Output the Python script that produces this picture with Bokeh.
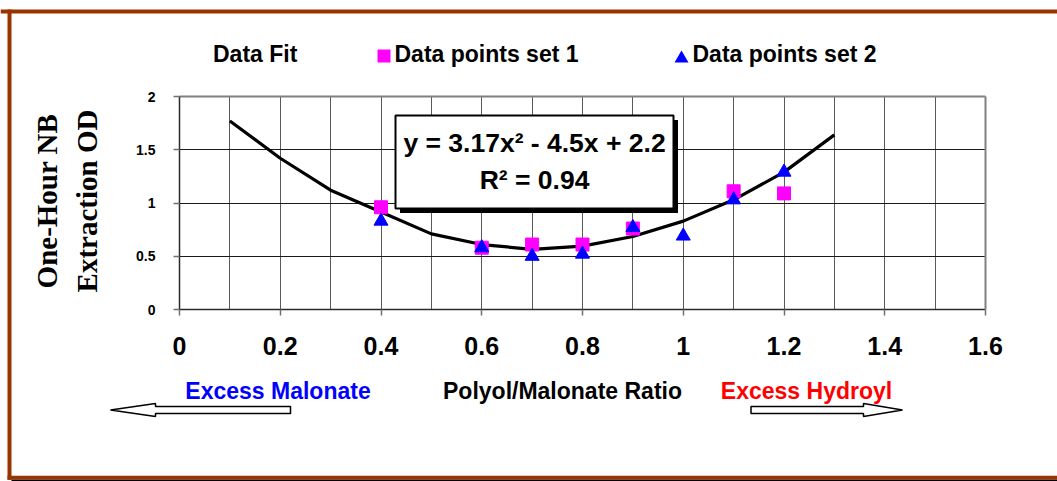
from bokeh.plotting import figure
from bokeh.models import (Range1d, FixedTicker, Label, BoxAnnotation, PolyAnnotation,
                          LinearAxis, Grid)
from bokeh.embed import file_html
from bokeh.resources import INLINE

# ---------------- data ----------------
fit_x = [0.1, 0.2, 0.3, 0.4, 0.5, 0.6, 0.7, 0.8, 0.9, 1.0, 1.1, 1.2, 1.3]
fit_y = [1.77, 1.42, 1.12, 0.915, 0.71, 0.61, 0.565, 0.595, 0.685, 0.83, 1.03, 1.29, 1.64]

set1_x = [0.4, 0.6, 0.7, 0.8, 0.9, 1.1, 1.2]
set1_y = [0.96, 0.58, 0.61, 0.61, 0.76, 1.11, 1.09]

set2_x = [0.4, 0.6, 0.7, 0.8, 0.9, 1.0, 1.1, 1.2]
set2_y = [0.83, 0.58, 0.50, 0.52, 0.77, 0.69, 1.03, 1.29]

x_ticks = [0, 0.2, 0.4, 0.6, 0.8, 1, 1.2, 1.4, 1.6]
x_tick_labels = ["0", "0.2", "0.4", "0.6", "0.8", "1", "1.2", "1.4", "1.6"]
x_grid_ticks = [0.1, 0.2, 0.3, 0.4, 0.5, 0.6, 0.7, 0.8, 0.9, 1.0, 1.1, 1.2, 1.3, 1.4, 1.5]
y_ticks = [0, 0.5, 1, 1.5, 2]
y_tick_labels = ["0", "0.5", "1", "1.5", "2"]
y_grid_ticks = [0.5, 1, 1.5]
x_min, x_max = 0, 1.6
y_min, y_max = 0, 2

legend_labels = ["Data Fit", "Data points set 1", "Data points set 2"]
equation_text = "y = 3.17x\u00b2 - 4.5x + 2.2"
r2_text = "R\u00b2 = 0.94"
y_title_lines = ["One-Hour NB", "Extraction OD"]
x_title = "Polyol/Malonate Ratio"
left_note = "Excess Malonate"
right_note = "Excess Hydroyl"

# ---------------- layout ----------------
W, H = 1057, 481
# plot area in canvas pixels
AX_L, AX_R, AX_T, AX_B = 179, 985, 96, 309
ppx = (AX_R - AX_L) / (x_max - x_min)
ppy = (AX_B - AX_T) / (y_max - y_min)
xr = Range1d(x_min - AX_L / ppx, x_max + (W - AX_R) / ppx)
yr = Range1d(y_min - (H - AX_B) / ppy, y_max + AX_T / ppy)

def sx(px):
    return px

def sy(py):
    return H - py

SANS = "Liberation Sans"
SERIF = "Liberation Serif"
BROWN = "#993300"

p = figure(width=W, height=H, x_range=xr, y_range=yr, title=None,
           output_backend="svg", toolbar_location=None, min_border=0,
           background_fill_color="white", border_fill_color="white")
p.outline_line_color = None

# ---------------- grids ----------------
p.xgrid.ticker = FixedTicker(ticks=x_grid_ticks)
p.ygrid.ticker = FixedTicker(ticks=y_grid_ticks)
p.xgrid.grid_line_color = "#5a5a5a"
p.ygrid.grid_line_color = "#1a1a1a"
p.xgrid.grid_line_width = 1
p.ygrid.grid_line_width = 1
if "cross_bounds" in Grid.properties():
    p.xgrid.cross_bounds = (y_min, y_max)
    p.ygrid.cross_bounds = (x_min, x_max)
    p.xgrid.bounds = (x_min, x_max)
    p.ygrid.bounds = (y_min, y_max)

# ---------------- axes ----------------
p.xaxis.fixed_location = y_min
p.yaxis.fixed_location = x_min
p.xaxis.bounds = (x_min, x_max)
p.yaxis.bounds = (y_min, y_max)
p.xaxis.ticker = FixedTicker(ticks=x_ticks)
p.yaxis.ticker = FixedTicker(ticks=y_ticks)
p.xaxis.major_label_overrides = dict(zip(x_ticks, x_tick_labels))
p.yaxis.major_label_overrides = dict(zip(y_ticks, y_tick_labels))
for ax in (p.xaxis, p.yaxis):
    ax.axis_line_color = "#2a2a2a"
    ax.axis_line_width = 1.5
    ax.major_tick_in = 0
    ax.major_tick_out = 6
    ax.minor_tick_line_color = None
    ax.major_tick_line_color = "#707070"
    ax.major_tick_line_width = 1.5
    ax.major_label_text_font = SANS
    ax.major_label_text_font_style = "bold"
    ax.major_label_text_color = "black"
p.xaxis.major_label_text_font_size = "25px"
p.xaxis.major_label_standoff = 21
p.yaxis.major_label_text_font_size = "14px"
p.yaxis.major_label_standoff = 18

# top and right borders of the plot area
top_axis = LinearAxis(fixed_location=y_max, bounds=(x_min, x_max), ticker=FixedTicker(ticks=[]),
                      axis_line_color="#808080", axis_line_width=2,
                      major_tick_line_color=None, minor_tick_line_color=None,
                      major_label_text_alpha=0)
right_axis = LinearAxis(fixed_location=x_max, bounds=(y_min, y_max), ticker=FixedTicker(ticks=[]),
                        axis_line_color="#808080", axis_line_width=2,
                        major_tick_line_color=None, minor_tick_line_color=None,
                        major_label_text_alpha=0)
p.add_layout(top_axis, "above")
p.add_layout(right_axis, "right")

# ---------------- data glyphs ----------------
p.line(fit_x, fit_y, line_color="black", line_width=3.2)
p.scatter(set1_x, set1_y, marker="square", size=13, fill_color="#FF00FF", line_color="#FF00FF")
p.scatter(set2_x, set2_y, marker="triangle", size=14, fill_color="#0000FF", line_color="#0000FF")

# ---------------- helpers ----------------
def box(l, r, t, b, color, **kw):
    opts = dict(fill_color=color, fill_alpha=1, line_alpha=0, level="overlay")
    opts.update(kw)
    return BoxAnnotation(left=sx(l), right=sx(r), top=sy(t), bottom=sy(b),
                         left_units="screen", right_units="screen",
                         top_units="screen", bottom_units="screen", **opts)

def label(txt, px, py, size, color="black", font=SANS, align="center", **kw):
    return Label(x=sx(px), y=sy(py), x_units="screen", y_units="screen", text=txt,
                 text_font=font, text_font_size=size, text_font_style="bold",
                 text_align=align, text_baseline="middle", text_color=color,
                 level="overlay", **kw)

def poly(xs, ys, **kw):
    return PolyAnnotation(xs=[sx(v) for v in xs], ys=[sy(v) for v in ys],
                          xs_units="screen", ys_units="screen", level="overlay", **kw)

# ---------------- chart-area frame ----------------
p.add_layout(box(0, W, 9, 13, BROWN))            # top
p.add_layout(box(7, 11, 9, 479.3, BROWN))        # left
p.add_layout(box(7, W, 475.3, 479.3, BROWN))     # bottom
p.add_layout(box(11, W, 479.3, 482, "black"))    # shadow

# ---------------- equation box ----------------
p.add_layout(box(399.5, 677.5, 119.5, 212.5, "black"))
p.add_layout(box(395, 673, 115, 208, "white", line_color="black", line_alpha=1, line_width=2))
eq_cx = (395 + 673) / 2
p.add_layout(label(equation_text, eq_cx, 142.5, "26.5px"))
p.add_layout(label(r2_text, eq_cx, 179.5, "26.5px"))

# ---------------- legend ----------------
p.add_layout(poly([377, 390, 390, 377], [49, 49, 62, 62],
                  fill_color="#FF00FF", fill_alpha=1, line_alpha=0))
p.add_layout(poly([681, 688, 674], [50, 62, 62],
                  fill_color="#0000FF", fill_alpha=1, line_alpha=0))
for txt, px in zip(legend_labels, (212.5, 394, 692)):
    p.add_layout(label(txt, px, 53, "23px", align="left"))

# ---------------- y-axis title ----------------
for txt, px in zip(y_title_lines, (46, 86)):
    p.add_layout(label(txt, px, 200.5, "29px", font=SERIF, angle=90, angle_units="deg"))

# ---------------- x title and notes ----------------
for txt, px, col in ((left_note, 277.5, "#0000FF"), (x_title, 562, "black"),
                     (right_note, 806, "#FF0000")):
    p.add_layout(label(txt, px, 390, "23px", color=col))

# ---------------- block arrows ----------------
def arrow(tip, base, end):
    xs = [tip, base, base, end, end, base, base]
    ys = [409.5, 403, 406, 406, 413, 413, 416]
    return poly(xs, ys, fill_color="white", fill_alpha=1, line_color="black",
                line_alpha=1, line_width=1.5)

p.add_layout(arrow(110, 155, 290))
p.add_layout(arrow(902, 863, 750.5))

open("out.html", "w").write(file_html(p, INLINE))
